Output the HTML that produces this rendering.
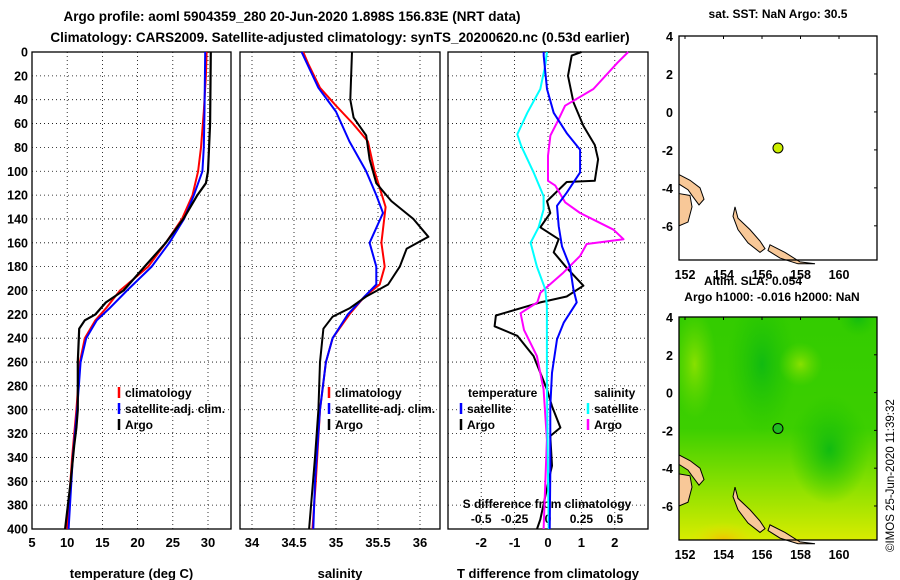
<!DOCTYPE html>
<html><head><meta charset="utf-8">
<style>
html,body{margin:0;padding:0;background:#fff;}
svg{display:block;font-family:"Liberation Sans",sans-serif;font-weight:bold;}
</style></head>
<body>
<svg id="chart" width="900" height="580" viewBox="0 0 900 580" xmlns="http://www.w3.org/2000/svg">
<text x="292" y="21" font-size="13.5" text-anchor="middle">Argo profile: aoml 5904359_280 20-Jun-2020 1.898S 156.83E (NRT data)</text>
<text x="340" y="42" font-size="13.5" text-anchor="middle">Climatology: CARS2009. Satellite-adjusted climatology: synTS_20200620.nc (0.53d earlier)</text>
<g id="plots"></g>
<text x="0" y="0" font-size="11.5" font-weight="normal" transform="translate(894,552) rotate(-90)">©IMOS 25-Jun-2020 11:39:32</text>
</svg>
<script>
// ---------- data ----------
const depthTicks=[0,20,40,60,80,100,120,140,160,180,200,220,240,260,280,300,320,340,360,380,400];
const tempTicks=[5,10,15,20,25,30];
const salTicks=[34,34.5,35,35.5,36];
const salTickLabels=["34","34.5","35","35.5","36"];
const tdiffTicks=[-2,-1,0,1,2];
const sdiffTickLabels=["-0.5","-0.25","0","0.25","0.5"];
const sdiffTicks=[-0.5,-0.25,0,0.25,0.5];

const tArgoDepth=[0,60,100,110,120,140,160,180,200,210,220,225,232,260,300,315,330,360,400];
const tArgoVal=[30.4,30.3,30,29.7,28.5,26.5,24,21,18,15.5,14,12.5,11.7,11.5,11.5,11.3,11,10.5,9.7];
const tClimDepth=[0,20,50,80,100,120,140,160,180,190,200,215,225,240,260,300,340,400];
const tClimVal=[29.8,29.7,29.4,29,28.6,27.8,26.3,24,21.5,19.5,17.5,15.5,14,12.5,11.8,11.3,10.7,10];
const tSatDepth=[0,50,80,100,120,140,160,180,200,215,225,240,260,300,340,400];
const tSatVal=[29.6,29.5,29.4,29.2,28,26.6,24.5,22,18.5,16,14.2,12.7,11.9,11.4,10.8,10.2];

const sArgoDepth=[0,40,55,70,90,110,125,140,155,165,180,195,205,215,222,232,260,300,340,400];
const sArgoVal=[35.19,35.17,35.21,35.36,35.40,35.48,35.66,35.92,36.1,35.84,35.76,35.62,35.36,35.16,34.96,34.85,34.81,34.79,34.75,34.68];
const sClimDepth=[0,10,30,45,60,75,100,130,160,180,195,205,220,240,260,300,360,400];
const sClimVal=[34.61,34.67,34.81,35.0,35.2,35.38,35.46,35.59,35.54,35.58,35.52,35.34,35.16,34.96,34.88,34.81,34.76,34.72];
const sSatDepth=[0,30,50,75,100,120,135,160,180,195,205,220,240,260,300,360,400];
const sSatVal=[34.59,34.79,35.0,35.16,35.36,35.48,35.56,35.40,35.48,35.48,35.34,35.14,34.96,34.88,34.81,34.75,34.73];

const dTArgoDepth=[0,3,20,42,62,78,90,108,109,125,135,147,157,168,181,196,205,210,221,230,238,255,269,283,297,315,322,347,353,392,400];
const dTArgoVal=[1.0,0.71,0.6,0.76,1.06,1.4,1.5,1.4,0.56,-0.03,0.07,-0.23,0.32,0.17,0.56,1.06,0.56,-0.23,-1.56,-1.6,-0.92,-0.43,-0.23,-0.03,0.12,0.37,0.07,0.12,0.07,-0.23,-0.33];
const dTSatDepth=[0,3,31,51,68,82,101,118,129,146,163,180,199,210,227,241,269,297,353,400];
const dTSatVal=[-0.13,-0.13,-0.03,0.17,0.56,0.96,0.96,0.56,0.27,0.32,0.42,0.66,0.76,0.86,0.47,0.27,0.12,0.07,0.07,0.05];
const dSSatDepth=[0,11,31,51,69,79,101,121,132,147,160,180,199,213,280,400];
const dSSatVal=[-0.008,-0.02,-0.058,-0.155,-0.23,-0.2,-0.108,-0.033,-0.033,-0.07,-0.13,-0.083,-0.02,-0.008,-0.008,0.005];
const dSArgoDepth=[0,9,31,45,59,70,87,108,112,126,135,142,149,157,161,171,185,202,210,219,233,255,283,325,400];
const dSArgoVal=[0.6,0.52,0.34,0.128,0.068,0.018,0.0,0.0,0.055,0.128,0.24,0.365,0.49,0.565,0.29,0.24,0.115,-0.058,-0.08,-0.205,-0.18,-0.083,-0.033,-0.008,-0.033];

const mapLatTicks=[4,2,0,-2,-4,-6];
const mapLonTicks=[152,154,156,158,160];
const floatLon=[156.83];
const floatLat=[-1.898];

// ---------- helpers ----------
const NS="http://www.w3.org/2000/svg";
const root=document.getElementById('plots');
function mk(tag,attrs,parent){const e=document.createElementNS(NS,tag);for(const k in attrs)e.setAttribute(k,attrs[k]);(parent||root).appendChild(e);return e;}
const Y0=52,Y1=529;
const yD=d=>Y0+(d/400)*(Y1-Y0);

function panel(name,x0,x1,xs,ticks,labels,xlabel){
  const g=mk('g',{});
  
  
  depthTicks.forEach(d=>{
    if(d>0&&d<400){const l=mk('line',{x1:x0,x2:x1,y1:yD(d),y2:yD(d),stroke:'#000','stroke-width':0.8,'stroke-dasharray':'1,3'},g);
    }
  });
  ticks.forEach((v,i)=>{
    const x=xs(v);
    if(x>x0+1&&x<x1-1){const l=mk('line',{x1:x,x2:x,y1:Y0,y2:Y1,stroke:'#000','stroke-width':0.8,'stroke-dasharray':'1,3'},g);
    }
    const t=mk('text',{x:x,y:547,'font-size':13,'text-anchor':'middle'},g);t.textContent=labels[i];
    
  });
  const r=mk('rect',{x:x0,y:Y0,width:x1-x0,height:Y1-Y0,fill:'none',stroke:'#000','stroke-width':1.3},g);
  
  const t=mk('text',{x:(x0+x1)/2,y:578,'font-size':13,'text-anchor':'middle'},g);t.textContent=xlabel;
  
  return g;
}
function line(g,name,depths,vals,xs,color,w){
  const pts=depths.map((d,i)=>xs(vals[i]).toFixed(1)+','+yD(d).toFixed(1)).join(' ');
  const p=mk('polyline',{points:pts,fill:'none',stroke:color,'stroke-width':w,'stroke-linejoin':'round'},g);
  
}
function legend(g,x,y,items){
  items.forEach((it,i)=>{
    const yy=y+i*16;
    const m=mk('line',{x1:x,x2:x,y1:yy-10,y2:yy+1,stroke:it[1],'stroke-width':2.5},g);
    
    const t=mk('text',{x:x+6,y:yy,'font-size':12},g);t.textContent=it[0];
    
  });
}

// depth labels
depthTicks.forEach(d=>{const t=mk('text',{x:28,y:yD(d)+4.5,'font-size':12.5,'text-anchor':'end'});t.textContent=d;
  });

// panel 1 temperature
const xT=v=>32+(v-5)*35.2/5;
const g1=panel('temperature-panel',32,231,xT,tempTicks,tempTicks.map(String),'temperature (deg C)');
legend(g1,119,397,[['climatology','#f00'],['satellite-adj. clim.','#00f'],['Argo','#000']]);
line(g1,'temp-climatology-line',tClimDepth,tClimVal,xT,'#f00',2);
line(g1,'temp-satellite-line',tSatDepth,tSatVal,xT,'#00f',2);
line(g1,'temp-argo-line',tArgoDepth,tArgoVal,xT,'#000',2.2);

// panel 2 salinity
const xS=v=>252+(v-34)*84;
const g2=panel('salinity-panel',240,440,xS,salTicks,salTickLabels,'salinity');
legend(g2,329,397,[['climatology','#f00'],['satellite-adj. clim.','#00f'],['Argo','#000']]);
line(g2,'sal-climatology-line',sClimDepth,sClimVal,xS,'#f00',2);
line(g2,'sal-satellite-line',sSatDepth,sSatVal,xS,'#00f',2);
line(g2,'sal-argo-line',sArgoDepth,sArgoVal,xS,'#000',2);

// panel 3 differences
const xD=v=>548+v*33.4;
const xSD=v=>548+v*4*33.4;
const g3=panel('difference-panel',448,648,xD,tdiffTicks,tdiffTicks.map(String),'T difference from climatology');
let tt=mk('text',{x:468,y:397,'font-size':12},g3);tt.textContent='temperature';

tt=mk('text',{x:594,y:397,'font-size':12},g3);tt.textContent='salinity';

legend(g3,461,413,[['satellite','#00f'],['Argo','#000']]);
legend(g3,588,413,[['satellite','#0ff'],['Argo','#f0f']]);
tt=mk('text',{x:547,y:508,'font-size':12,'text-anchor':'middle'},g3);tt.textContent='S difference from climatology';

sdiffTicks.forEach((v,i)=>{const t=mk('text',{x:xSD(v),y:523,'font-size':12,'text-anchor':'middle'},g3);t.textContent=sdiffTickLabels[i];
  });
line(g3,'tdiff-argo-line',dTArgoDepth,dTArgoVal,xD,'#000',2);
line(g3,'sdiff-argo-line',dSArgoDepth,dSArgoVal,xSD,'#f0f',2);
line(g3,'sdiff-satellite-line',dSSatDepth,dSSatVal,xSD,'#0ff',2);
line(g3,'tdiff-satellite-line',dTSatDepth,dTSatVal,xD,'#00f',2);

// ---------- maps ----------
const defs=mk('defs',{});
defs.innerHTML='<linearGradient id="slaG" x1="0" y1="0" x2="0" y2="1"><stop offset="0" stop-color="#33cc00"/><stop offset="0.5" stop-color="#3ccf00"/><stop offset="0.75" stop-color="#88e000"/><stop offset="1" stop-color="#d8ec00"/></linearGradient>'+
'<radialGradient id="hotG" cx="0.5" cy="0.5" r="0.5"><stop offset="0" stop-color="#f0c000"/><stop offset="1" stop-color="#e0e800" stop-opacity="0"/></radialGradient>'+
'<radialGradient id="darkG" cx="0.5" cy="0.5" r="0.5"><stop offset="0" stop-color="#11bb11"/><stop offset="1" stop-color="#22c400" stop-opacity="0"/></radialGradient>'+
'<radialGradient id="liteG" cx="0.5" cy="0.5" r="0.5"><stop offset="0" stop-color="#88e000"/><stop offset="1" stop-color="#66d800" stop-opacity="0"/></radialGradient>'+
'<clipPath id="slaClip"><rect x="679" y="317" width="198" height="223"/></clipPath>';

function map(name,top,bottom,fillBg){
  const x0=679,x1=877;
  const g=mk('g',{});
  const lon=v=>685+(v-152)*19.25;
  const lat=v=>top+(4-v)*(bottom-top)/11.8;
  if(fillBg){
    const cg=mk('g',{'clip-path':'url(#slaClip)'},g);
    const r=mk('rect',{x:x0,y:top,width:x1-x0,height:bottom-top,fill:'url(#slaG)'},cg);
    
    [[lon(156),lat(1.5),35,70,'darkG'],[lon(159.5),lat(-3),40,55,'darkG'],[lon(161),lat(4),20,20,'darkG'],[lon(152.5),lat(1.5),22,55,'liteG'],[lon(158),lat(1.5),22,22,'liteG'],[lon(154),lat(-7.8),35,18,'hotG']].forEach(b=>{
      const e=mk('ellipse',{cx:b[0],cy:b[1],rx:b[2],ry:b[3],fill:'url(#'+b[4]+')'},cg);
      });
  }
  const lands=[
    'M679,'+lat(-3.3)+' L690,'+lat(-3.6)+' L700,'+lat(-4.0)+' L704,'+lat(-4.6)+' L699,'+lat(-4.9)+' L692,'+lat(-4.4)+' L688,'+lat(-4.1)+' L679,'+lat(-3.8)+'Z',
    'M679,'+lat(-4.3)+' L690,'+lat(-4.4)+' L692,'+lat(-5.0)+' L688,'+lat(-5.8)+' L679,'+lat(-6.0)+'Z',
    'M735,'+lat(-5.0)+' L738,'+lat(-5.6)+' L750,'+lat(-6.2)+' L760,'+lat(-6.8)+' L765,'+lat(-7.2)+' L760,'+lat(-7.4)+' L748,'+lat(-6.9)+' L738,'+lat(-6.2)+' L733,'+lat(-5.5)+'Z',
    'M770,'+lat(-7.0)+' L785,'+lat(-7.4)+' L800,'+lat(-7.9)+' L815,'+lat(-8.0)+' L798,'+lat(-8.0)+' L780,'+lat(-7.7)+' L768,'+lat(-7.3)+'Z'
  ];
  lands.forEach(d=>{const p=mk('path',{d:d,fill:'#f8c898',stroke:'#000','stroke-width':1},g);
    });
  const fr=mk('rect',{x:x0,y:top,width:x1-x0,height:bottom-top,fill:'none',stroke:'#000','stroke-width':1.3},g);
  
  mapLatTicks.forEach(v=>{const y=lat(v);
    const t=mk('text',{x:673,y:y+5,'font-size':12.5,'text-anchor':'end'},g);t.textContent=v;
    
    const l=mk('line',{x1:x1-3,x2:x1,y1:y,y2:y,stroke:'#000'},g);});
  mapLonTicks.forEach(v=>{const x=lon(v);
    const t=mk('text',{x:x,y:bottom+19,'font-size':12.5,'text-anchor':'middle'},g);t.textContent=v;
    
    const l=mk('line',{x1:x,x2:x,y1:top,y2:top+3,stroke:'#000'},g);});
  floatLon.forEach((v,i)=>{const c=mk('circle',{cx:lon(v),cy:lat(floatLat[i]),r:5,fill:fillBg?'#22bb22':'#ccee00',stroke:'#000','stroke-width':1},g);
    });
}
map('sst-map',36,260,false);
map('sla-map',317,540,true);
[['sat. SST: NaN Argo: 30.5',778,18,'sst-map-title'],['Altim. SLA: 0.054',753,285,'sla-map-title'],['Argo h1000: -0.016 h2000: NaN',772,301,'sla-map-subtitle']].forEach(a=>{
  const t=mk('text',{x:a[1],y:a[2],'font-size':12,'text-anchor':'middle'});t.textContent=a[0];
  });
</script>
</body></html>
